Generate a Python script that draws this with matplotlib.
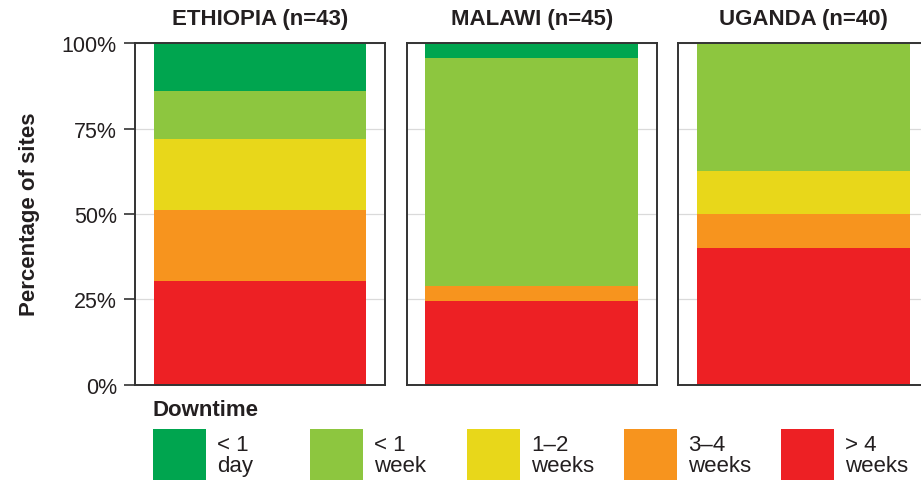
import matplotlib
matplotlib.use("Agg")
import matplotlib.pyplot as plt
from matplotlib.patches import Rectangle

plt.rcParams["font.family"] = ["Liberation Sans", "DejaVu Sans"]

# site counts per downtime category
countries = ["ETHIOPIA", "MALAWI", "UGANDA"]
categories = ["< 1\nday", "< 1\nweek", "1\u20132\nweeks", "3\u20134\nweeks", "> 4\nweeks"]
colors = ["#00A54F", "#8DC63F", "#E8D71A", "#F7941E", "#ED2024"]
ethiopia = [6, 6, 9, 9, 13]
malawi = [2, 30, 0, 2, 11]
uganda = [0, 15, 5, 4, 16]
counts = [ethiopia, malawi, uganda]

W, H = 921, 481
fig = plt.figure(figsize=(W / 100, H / 100), dpi=100)

ax_left = [135, 406.7, 678.3]
ax_w = 250
ax_top, ax_bot = 44.3, 385.7
dark = "#333333"
txt = "#231F20"

for i, (name, vals) in enumerate(zip(countries, counts)):
    ax = fig.add_axes([ax_left[i] / W, 1 - ax_bot / H, ax_w / W, (ax_bot - ax_top) / H])
    n = sum(vals)
    bottom = 0
    # stack from "> 4 weeks" at the bottom up to "< 1 day"
    for v, c in zip(vals[::-1], colors[::-1]):
        pct = 100 * v / n
        if v > 0:
            ax.bar(0, pct, bottom=bottom, width=0.85, color=c, linewidth=0, zorder=2)
        bottom += pct
    ax.set_xlim(-0.5, 0.5)
    ax.set_ylim(0, 100)
    ax.set_xticks([])
    ax.set_yticks([0, 25, 50, 75, 100])
    ax.grid(axis="y", color="#DADADA", linewidth=0.9, zorder=0)
    ax.set_axisbelow(True)
    for s in ax.spines.values():
        s.set_color(dark)
        s.set_linewidth(1.4)
        s.set_zorder(3)
    if i == 0:
        ax.set_yticklabels(["0%", "25%", "50%", "75%", "100%"])
        ax.tick_params(axis="y", length=8, width=1.2, color=dark, pad=5,
                       labelsize=15.5, labelcolor=txt)
    else:
        ax.tick_params(axis="y", length=0, labelleft=False)
    cx = (ax_left[i] + ax_w / 2) / W
    fig.text(cx, 1 - 19 / H, f"{name} (n={n})", ha="center", va="center",
             fontsize=16, fontweight="bold", color=txt)

fig.text(30 / W, 1 - 214.5 / H, "Percentage of sites", rotation=90,
         ha="center", va="center", fontsize=16, fontweight="bold", color=txt)

# legend
fig.text(153 / W, 1 - 411 / H, "Downtime", ha="left", va="center",
         fontsize=16, fontweight="bold", color=txt)
key_x = [153, 310, 467, 624, 781]
for x, lab, c in zip(key_x, categories, colors):
    fig.add_artist(Rectangle((x / W, 1 - 483 / H), 53 / W, 53 / H,
                             transform=fig.transFigure, facecolor=c, edgecolor="none"))
    fig.text((x + 64) / W, 1 - 456 / H, lab, ha="left", va="center",
             fontsize=16, color=txt, linespacing=1.0)

fig.savefig("out.png", dpi=100)
